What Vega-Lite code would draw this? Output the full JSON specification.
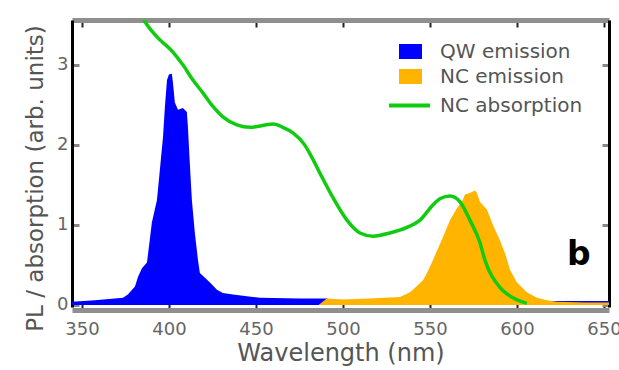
{
  "$schema": "https://vega.github.io/schema/vega-lite/v6.json",
  "width": 537,
  "height": 287,
  "autosize": "none",
  "padding": {"left": 72, "top": 20, "right": 10, "bottom": 63},
  "config": {"view": {"stroke": null}, "font": "DejaVu Sans"},
  "datasets": {
    "qw": [
      {"nm": 344.3, "val": 0.04, "s": "QW emission"},
      {"nm": 357.5, "val": 0.06, "s": "QW emission"},
      {"nm": 373.6, "val": 0.09, "s": "QW emission"},
      {"nm": 376.4, "val": 0.13, "s": "QW emission"},
      {"nm": 380.5, "val": 0.23, "s": "QW emission"},
      {"nm": 382.2, "val": 0.35, "s": "QW emission"},
      {"nm": 384.5, "val": 0.46, "s": "QW emission"},
      {"nm": 387.4, "val": 0.53, "s": "QW emission"},
      {"nm": 390.2, "val": 1.03, "s": "QW emission"},
      {"nm": 393.1, "val": 1.31, "s": "QW emission"},
      {"nm": 394.8, "val": 1.69, "s": "QW emission"},
      {"nm": 396.6, "val": 2.10, "s": "QW emission"},
      {"nm": 397.7, "val": 2.48, "s": "QW emission"},
      {"nm": 398.9, "val": 2.81, "s": "QW emission"},
      {"nm": 400.0, "val": 2.88, "s": "QW emission"},
      {"nm": 401.7, "val": 2.89, "s": "QW emission"},
      {"nm": 402.3, "val": 2.78, "s": "QW emission"},
      {"nm": 403.4, "val": 2.53, "s": "QW emission"},
      {"nm": 405.2, "val": 2.44, "s": "QW emission"},
      {"nm": 408.0, "val": 2.46, "s": "QW emission"},
      {"nm": 410.3, "val": 2.41, "s": "QW emission"},
      {"nm": 410.9, "val": 2.23, "s": "QW emission"},
      {"nm": 412.1, "val": 1.73, "s": "QW emission"},
      {"nm": 413.2, "val": 1.31, "s": "QW emission"},
      {"nm": 414.9, "val": 0.90, "s": "QW emission"},
      {"nm": 416.7, "val": 0.56, "s": "QW emission"},
      {"nm": 417.8, "val": 0.40, "s": "QW emission"},
      {"nm": 420.7, "val": 0.34, "s": "QW emission"},
      {"nm": 423.6, "val": 0.28, "s": "QW emission"},
      {"nm": 427.6, "val": 0.19, "s": "QW emission"},
      {"nm": 431.0, "val": 0.15, "s": "QW emission"},
      {"nm": 436.8, "val": 0.13, "s": "QW emission"},
      {"nm": 448.3, "val": 0.10, "s": "QW emission"},
      {"nm": 452.3, "val": 0.09, "s": "QW emission"},
      {"nm": 475.0, "val": 0.08, "s": "QW emission"},
      {"nm": 490.8, "val": 0.08, "s": "QW emission"},
      {"nm": 495.0, "val": 0.05, "s": "QW emission"},
      {"nm": 520.0, "val": 0.05, "s": "QW emission"},
      {"nm": 560.0, "val": 0.04, "s": "QW emission"},
      {"nm": 600.0, "val": 0.04, "s": "QW emission"},
      {"nm": 620.0, "val": 0.05, "s": "QW emission"},
      {"nm": 652.9, "val": 0.05, "s": "QW emission"}
    ],
    "nc": [
      {"nm": 486.0, "val": 0.0, "s": "NC emission"},
      {"nm": 490.8, "val": 0.08, "s": "NC emission"},
      {"nm": 500.0, "val": 0.07, "s": "NC emission"},
      {"nm": 515.0, "val": 0.08, "s": "NC emission"},
      {"nm": 532.8, "val": 0.10, "s": "NC emission"},
      {"nm": 538.5, "val": 0.16, "s": "NC emission"},
      {"nm": 540.2, "val": 0.19, "s": "NC emission"},
      {"nm": 543.1, "val": 0.25, "s": "NC emission"},
      {"nm": 546.0, "val": 0.31, "s": "NC emission"},
      {"nm": 548.3, "val": 0.40, "s": "NC emission"},
      {"nm": 551.7, "val": 0.56, "s": "NC emission"},
      {"nm": 557.5, "val": 0.85, "s": "NC emission"},
      {"nm": 561.5, "val": 1.06, "s": "NC emission"},
      {"nm": 565.5, "val": 1.21, "s": "NC emission"},
      {"nm": 568.4, "val": 1.29, "s": "NC emission"},
      {"nm": 570.1, "val": 1.38, "s": "NC emission"},
      {"nm": 573.0, "val": 1.40, "s": "NC emission"},
      {"nm": 575.9, "val": 1.43, "s": "NC emission"},
      {"nm": 577.0, "val": 1.40, "s": "NC emission"},
      {"nm": 578.7, "val": 1.29, "s": "NC emission"},
      {"nm": 582.8, "val": 1.19, "s": "NC emission"},
      {"nm": 586.2, "val": 1.00, "s": "NC emission"},
      {"nm": 590.2, "val": 0.81, "s": "NC emission"},
      {"nm": 593.1, "val": 0.65, "s": "NC emission"},
      {"nm": 596.0, "val": 0.44, "s": "NC emission"},
      {"nm": 600.0, "val": 0.28, "s": "NC emission"},
      {"nm": 605.7, "val": 0.16, "s": "NC emission"},
      {"nm": 611.5, "val": 0.09, "s": "NC emission"},
      {"nm": 617.2, "val": 0.06, "s": "NC emission"},
      {"nm": 623.0, "val": 0.04, "s": "NC emission"},
      {"nm": 640.0, "val": 0.03, "s": "NC emission"},
      {"nm": 652.9, "val": 0.03, "s": "NC emission"}
    ],
    "abs": [
      {"nm": 384.0, "val": 3.62, "c": "NC absorption"},
      {"nm": 386.8, "val": 3.52, "c": "NC absorption"},
      {"nm": 393.1, "val": 3.35, "c": "NC absorption"},
      {"nm": 402.3, "val": 3.16, "c": "NC absorption"},
      {"nm": 408.0, "val": 3.0, "c": "NC absorption"},
      {"nm": 413.8, "val": 2.81, "c": "NC absorption"},
      {"nm": 419.5, "val": 2.65, "c": "NC absorption"},
      {"nm": 425.3, "val": 2.48, "c": "NC absorption"},
      {"nm": 431.0, "val": 2.35, "c": "NC absorption"},
      {"nm": 439.1, "val": 2.25, "c": "NC absorption"},
      {"nm": 446.6, "val": 2.22, "c": "NC absorption"},
      {"nm": 459.8, "val": 2.26, "c": "NC absorption"},
      {"nm": 465.5, "val": 2.22, "c": "NC absorption"},
      {"nm": 471.3, "val": 2.15, "c": "NC absorption"},
      {"nm": 478.0, "val": 2.0, "c": "NC absorption"},
      {"nm": 482.0, "val": 1.85, "c": "NC absorption"},
      {"nm": 487.9, "val": 1.60, "c": "NC absorption"},
      {"nm": 494.3, "val": 1.34, "c": "NC absorption"},
      {"nm": 502.3, "val": 1.06, "c": "NC absorption"},
      {"nm": 509.8, "val": 0.90, "c": "NC absorption"},
      {"nm": 517.2, "val": 0.86, "c": "NC absorption"},
      {"nm": 527.0, "val": 0.90, "c": "NC absorption"},
      {"nm": 536.8, "val": 0.97, "c": "NC absorption"},
      {"nm": 544.3, "val": 1.06, "c": "NC absorption"},
      {"nm": 551.7, "val": 1.25, "c": "NC absorption"},
      {"nm": 556.0, "val": 1.33, "c": "NC absorption"},
      {"nm": 561.5, "val": 1.36, "c": "NC absorption"},
      {"nm": 567.2, "val": 1.29, "c": "NC absorption"},
      {"nm": 573.0, "val": 1.06, "c": "NC absorption"},
      {"nm": 578.7, "val": 0.78, "c": "NC absorption"},
      {"nm": 581.6, "val": 0.56, "c": "NC absorption"},
      {"nm": 590.2, "val": 0.22, "c": "NC absorption"},
      {"nm": 597.7, "val": 0.09, "c": "NC absorption"},
      {"nm": 605.7, "val": 0.02, "c": "NC absorption"}
    ],
    "lab": [{"nm": 635.6, "val": 0.5, "t": "b"}]
  },
  "layer": [
    {
      "data": {"name": "qw"},
      "mark": {"type": "area", "opacity": 1, "clip": true},
      "encoding": {
        "x": {"field": "nm", "type": "quantitative", "scale": {"domain": [344.3, 652.9], "nice": false, "zero": false},
          "axis": {"orient": "bottom", "values": [350, 400, 450, 500, 550, 600, 650], "format": "d", "grid": false, "labelFlush": false,
            "domainColor": "#8f8f8f", "domainWidth": 5, "offset": 3, "tickColor": "#222", "tickSize": -7, "tickWidth": 2,
            "labelFontSize": 18, "labelColor": "#666", "labelPadding": 17,
            "title": "Wavelength (nm)", "titleFontSize": 24, "titleColor": "#555", "titleFontWeight": "normal", "titlePadding": 3}},
        "y": {"field": "val", "type": "quantitative", "stack": null, "scale": {"domain": [-0.025, 3.56], "nice": false, "zero": false},
          "axis": {"orient": "left", "values": [0, 1, 2, 3], "grid": false, "labelFlush": false,
            "domainColor": "#000", "domainWidth": 3, "tickColor": "#888", "tickSize": -7, "tickWidth": 3,
            "labelFontSize": 18, "labelColor": "#666", "labelPadding": 11,
            "title": "PL / absorption (arb. units)", "titleFontSize": 23, "titleColor": "#555", "titleFontWeight": "normal",
            "titleX": -37, "titleY": 158, "titleBaseline": "middle", "titleAngle": -90, "titleAlign": "center"}},
        "fill": {"field": "s", "type": "nominal",
          "scale": {"domain": ["QW emission", "NC emission"], "range": ["#0000ff", "#ffb400"]},
          "legend": {"title": null, "orient": "none", "legendX": 327, "legendY": 20, "padding": 0,
            "symbolType": "M-1,-0.65H1V0.65H-1Z", "symbolSize": 529, "symbolStrokeWidth": 0, "symbolOpacity": 1,
            "labelFontSize": 20, "labelColor": "#555", "labelOffset": 18, "rowPadding": 3}}
      }
    },
    {
      "data": {"name": "nc"},
      "mark": {"type": "area", "opacity": 1, "clip": true},
      "encoding": {
        "x": {"field": "nm", "type": "quantitative", "scale": {"domain": [344.3, 652.9], "nice": false, "zero": false}, "axis": null},
        "y": {"field": "val", "type": "quantitative", "stack": null, "scale": {"domain": [-0.025, 3.56], "nice": false, "zero": false}, "axis": null},
        "fill": {"field": "s", "type": "nominal",
          "scale": {"domain": ["QW emission", "NC emission"], "range": ["#0000ff", "#ffb400"]},
          "legend": {"title": null, "orient": "none", "legendX": 327, "legendY": 20, "padding": 0,
            "symbolType": "M-1,-0.65H1V0.65H-1Z", "symbolSize": 529, "symbolStrokeWidth": 0, "symbolOpacity": 1,
            "labelFontSize": 20, "labelColor": "#555", "labelOffset": 18, "rowPadding": 3}}
      }
    },
    {
      "data": {"name": "abs"},
      "mark": {"type": "line", "strokeWidth": 3.5, "interpolate": "monotone", "clip": true},
      "encoding": {
        "x": {"field": "nm", "type": "quantitative", "scale": {"domain": [344.3, 652.9], "nice": false, "zero": false},
          "axis": {"orient": "top", "values": [350, 400, 450, 500, 550, 600, 650], "labels": false, "title": null, "grid": false,
            "domainColor": "#8f8f8f", "domainWidth": 5, "tickColor": "#222", "tickSize": -7, "tickWidth": 2}},
        "y": {"field": "val", "type": "quantitative", "scale": {"domain": [-0.025, 3.56], "nice": false, "zero": false},
          "axis": {"orient": "right", "values": [0, 1, 2, 3], "labels": false, "title": null, "grid": false,
            "domainColor": "#000", "domainWidth": 3, "tickColor": "#888", "tickSize": -7, "tickWidth": 3}},
        "stroke": {"field": "c", "type": "nominal",
          "scale": {"domain": ["NC absorption"], "range": ["#10cc10"]},
          "legend": {"title": null, "orient": "none", "legendX": 315, "legendY": 63, "padding": 0,
            "symbolType": "stroke", "symbolSize": 1681, "symbolStrokeWidth": 4,
            "labelFontSize": 20, "labelColor": "#555", "labelOffset": 8}}
      }
    },
    {
      "data": {"name": "lab"},
      "mark": {"type": "text", "fontSize": 33, "fontWeight": "bold", "align": "center", "baseline": "alphabetic", "color": "#000"},
      "encoding": {
        "x": {"field": "nm", "type": "quantitative", "scale": {"domain": [344.3, 652.9], "nice": false, "zero": false}, "axis": null},
        "y": {"field": "val", "type": "quantitative", "scale": {"domain": [-0.025, 3.56], "nice": false, "zero": false}, "axis": null},
        "text": {"field": "t"}
      }
    }
  ],
  "resolve": {"axis": {"x": "independent", "y": "independent"}}
}
